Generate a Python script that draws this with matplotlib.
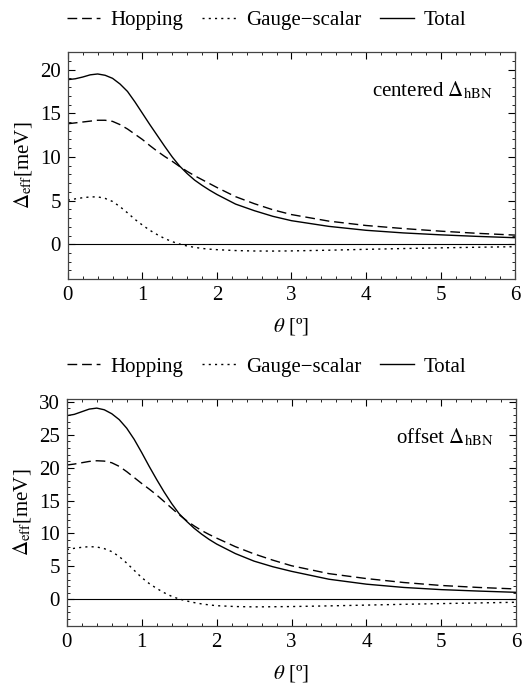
import matplotlib
matplotlib.use("Agg")
import matplotlib.pyplot as plt
from matplotlib.ticker import MultipleLocator

plt.rcParams['font.family'] = ['Liberation Serif', 'DejaVu Serif']
plt.rcParams['mathtext.fontset'] = 'stix'

theta = [0, 0.1, 0.2, 0.3, 0.4, 0.5, 0.6, 0.7, 0.8, 0.9, 1.0, 1.1, 1.2, 1.3, 1.4, 1.5,
         1.6, 1.7, 1.8, 1.9, 2.0, 2.25, 2.5, 2.75, 3, 3.5, 4, 4.5, 5, 5.5, 6]

# centered Delta_hBN
hop_c = [13.8, 13.9, 14.0, 14.1, 14.2, 14.2, 14.07, 13.7, 13.2, 12.6, 12.0, 11.3, 10.65, 10.05, 9.5, 8.9,
         8.35, 7.85, 7.4, 6.95, 6.5, 5.45, 4.65, 3.95, 3.4, 2.65, 2.15, 1.8, 1.5, 1.25, 1.05]
gauge_c = [5.05, 5.2, 5.33, 5.42, 5.43, 5.25, 4.9, 4.3, 3.6, 2.85, 2.2, 1.6, 1.1, 0.65, 0.3, 0.02,
           -0.2, -0.35, -0.48, -0.56, -0.62, -0.72, -0.77, -0.78, -0.76, -0.68, -0.58, -0.49, -0.41, -0.34, -0.28]
total_c = [18.85, 18.95, 19.15, 19.4, 19.5, 19.35, 19.0, 18.35, 17.5, 16.3, 15.0, 13.7, 12.45, 11.2, 10.0, 8.95,
           8.1, 7.35, 6.75, 6.2, 5.7, 4.6, 3.85, 3.2, 2.7, 2.05, 1.6, 1.3, 1.08, 0.9, 0.75]

# offset Delta_hBN
hop_o = [20.4, 20.55, 20.75, 20.95, 21.05, 21.0, 20.75, 20.2, 19.4, 18.5, 17.6, 16.75, 15.85, 14.85, 13.85, 12.85,
         11.95, 11.15, 10.45, 9.85, 9.3, 8.0, 6.9, 5.95, 5.1, 3.9, 3.15, 2.55, 2.1, 1.8, 1.57]
gauge_o = [7.55, 7.75, 7.9, 8.0, 7.95, 7.7, 7.25, 6.5, 5.5, 4.4, 3.3, 2.4, 1.65, 1.0, 0.45, 0.05,
           -0.25, -0.5, -0.7, -0.85, -0.97, -1.1, -1.15, -1.13, -1.1, -1.0, -0.88, -0.76, -0.65, -0.55, -0.45]
total_o = [27.9, 28.1, 28.5, 28.9, 29.05, 28.8, 28.2, 27.3, 26.0, 24.3, 22.3, 20.2, 18.2, 16.3, 14.55, 13.0,
           11.85, 10.8, 9.9, 9.1, 8.4, 6.95, 5.8, 4.95, 4.25, 3.05, 2.3, 1.8, 1.47, 1.25, 1.06]

panels = [
    (hop_c, gauge_c, total_c, 'centered $\\Delta_{\\mathrm{hBN}}$', (-4, 22), [0.128, 0.593, 0.844, 0.331]),
    (hop_o, gauge_o, total_o, 'offset $\\Delta_{\\mathrm{hBN}}$', (-4, 30.5), [0.126, 0.088, 0.848, 0.331]),
]

fig = plt.figure(figsize=(5.3, 6.86), dpi=100)

for hop, gauge, total, label, ylim, rect in panels:
    ax = fig.add_axes(rect)
    ax.axhline(0, color='black', lw=0.8)
    ax.plot(theta, hop, color='black', lw=1.0, ls=(0, (7, 3.5)), label='Hopping')
    ax.plot(theta, gauge, color='black', lw=1.0, ls=(0, (1.5, 3)), label='Gauge\u2212scalar')
    ax.plot(theta, total, color='black', lw=1.0, label='Total')
    ax.set_xlim(0, 6)
    ax.set_ylim(*ylim)
    ax.xaxis.set_major_locator(MultipleLocator(1))
    ax.xaxis.set_minor_locator(MultipleLocator(0.2))
    ax.yaxis.set_major_locator(MultipleLocator(5))
    ax.yaxis.set_minor_locator(MultipleLocator(1))
    ax.tick_params(which='both', direction='in', top=True, right=True, labelsize=15, pad=5)
    ax.tick_params(which='major', length=5, width=0.8)
    ax.tick_params(which='minor', length=2.5, width=0.6)
    for s in ax.spines.values():
        s.set_linewidth(0.9)
        s.set_color('#444444')
    ax.set_xlabel('$\\theta$ [º]', fontsize=15, labelpad=8)
    ax.set_ylabel('$\\Delta_{\\mathrm{eff}}$[meV]', fontsize=15, labelpad=4)
    ax.text(0.95, 0.83, label, transform=ax.transAxes, ha='right', va='center', fontsize=15)
    ax.legend(loc='lower center', bbox_to_anchor=(0.445, 1.06), ncol=3, frameon=False,
              fontsize=15, handlelength=1.6, columnspacing=0.9, handletextpad=0.5, borderaxespad=0)

fig.savefig('out.png', dpi=100)
